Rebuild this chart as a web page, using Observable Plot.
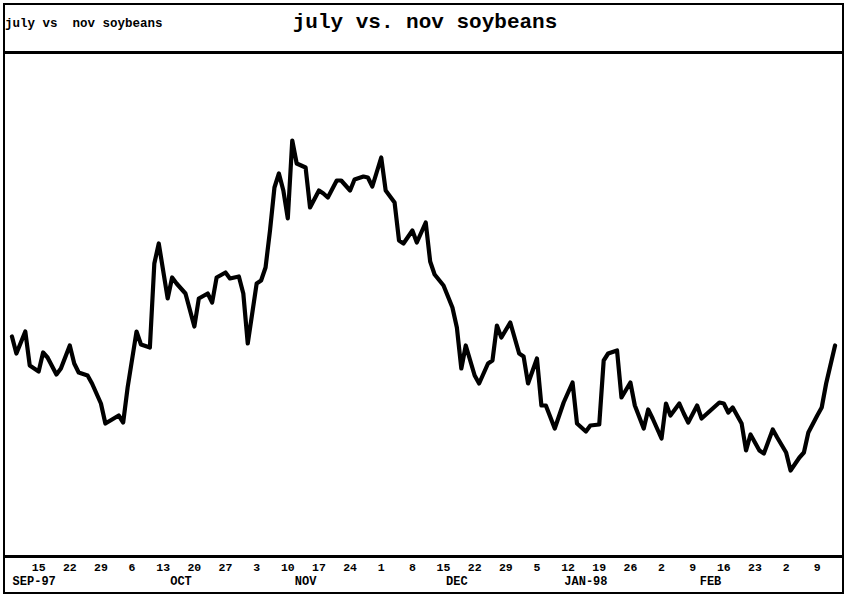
<!DOCTYPE html>
<html>
<head>
<meta charset="utf-8">
<script src="https://cdn.jsdelivr.net/npm/d3@7"></script>
<script src="https://cdn.jsdelivr.net/npm/@observablehq/plot@0.6"></script>
<style>
  body { margin: 0; background: #fff; }
  #wrap { position: relative; width: 846px; height: 597px; overflow: hidden; font-family: "Liberation Mono", "DejaVu Sans Mono", monospace; color: #000; }
  #small { position: absolute; left: 5px; top: 17px; font-size: 12.5px; font-weight: bold; white-space: pre; }
  #title { position: absolute; left: 0; top: 11px; width: 850px; text-align: center; font-size: 21px; font-weight: bold; white-space: pre; }
  #chart { position: absolute; left: 0; top: 53px; }
  #frame { position: absolute; left: 3px; top: 3px; width: 837px; height: 587px; border: 2.5px solid #000; pointer-events: none; }
  #sep { position: absolute; left: 3px; top: 51px; width: 841px; height: 3px; background: #000; }
  #axisline { position: absolute; left: 3px; top: 555px; width: 841px; height: 2.5px; background: #000; }
</style>
</head>
<body>
<div id="wrap">
  <div id="small">july vs  nov soybeans</div>
  <div id="title">july vs. nov soybeans</div>
  <div id="chart"></div>
  <div id="sep"></div>
  <div id="axisline"></div>
  <div id="frame"></div>
</div>
<script>
// ---- data (values are in the chart's own vertical units) ----
const dates = [
  "1997-09-09","1997-09-10","1997-09-12","1997-09-13","1997-09-15","1997-09-16","1997-09-17","1997-09-19","1997-09-20",
  "1997-09-22","1997-09-23","1997-09-24","1997-09-26","1997-09-27","1997-09-29","1997-09-30",
  "1997-10-03","1997-10-04","1997-10-05","1997-10-07","1997-10-08","1997-10-10","1997-10-11","1997-10-12",
  "1997-10-14","1997-10-15","1997-10-16","1997-10-18","1997-10-20","1997-10-21","1997-10-23","1997-10-24",
  "1997-10-25","1997-10-27","1997-10-28","1997-10-30","1997-10-31",
  "1997-11-01","1997-11-03","1997-11-04","1997-11-05","1997-11-06","1997-11-07","1997-11-08","1997-11-09",
  "1997-11-10","1997-11-11","1997-11-12","1997-11-14","1997-11-15","1997-11-17","1997-11-18","1997-11-19",
  "1997-11-21","1997-11-22","1997-11-24","1997-11-25","1997-11-27","1997-11-28","1997-11-29",
  "1997-12-01","1997-12-02","1997-12-04","1997-12-05","1997-12-06","1997-12-08","1997-12-09","1997-12-11",
  "1997-12-12","1997-12-13","1997-12-15","1997-12-17","1997-12-18","1997-12-19","1997-12-20","1997-12-22",
  "1997-12-23","1997-12-25","1997-12-26","1997-12-27","1997-12-28","1997-12-30",
  "1998-01-01","1998-01-02","1998-01-03","1998-01-05","1998-01-06","1998-01-07","1998-01-09","1998-01-11",
  "1998-01-13","1998-01-14","1998-01-16","1998-01-17","1998-01-19","1998-01-20","1998-01-21","1998-01-23",
  "1998-01-24","1998-01-26","1998-01-27","1998-01-29","1998-01-30","1998-01-31",
  "1998-02-02","1998-02-03","1998-02-04","1998-02-06","1998-02-07","1998-02-08","1998-02-10","1998-02-11",
  "1998-02-13","1998-02-15","1998-02-16","1998-02-17","1998-02-18","1998-02-20","1998-02-21","1998-02-22",
  "1998-02-24","1998-02-25","1998-02-27","1998-02-28",
  "1998-03-02","1998-03-03","1998-03-05","1998-03-06","1998-03-07","1998-03-09","1998-03-10","1998-03-11","1998-03-13"
];
const spread = [
  22.0,20.3,22.5,19.1,18.5,20.4,19.9,18.2,18.8,
  21.1,19.3,18.4,18.1,17.3,15.3,13.3,
  14.1,13.4,16.9,22.5,21.2,20.9,29.3,31.3,
  25.8,27.9,27.3,26.3,23.0,25.8,26.3,25.4,
  27.9,28.4,27.8,28.0,26.3,
  21.3,27.3,27.6,28.9,32.6,36.9,38.3,36.6,
  33.8,41.6,39.3,38.9,34.9,36.6,36.3,35.9,
  37.6,37.6,36.6,37.7,38.0,37.9,37.0,
  39.9,36.6,35.4,31.6,31.3,32.6,31.4,33.4,
  29.5,28.2,27.1,24.9,22.9,18.8,21.1,18.1,
  17.3,19.3,19.6,23.1,21.9,23.4,
  20.3,20.0,17.3,19.8,15.1,15.1,12.8,15.4,
  17.4,13.3,12.5,13.1,13.2,19.6,20.3,20.6,
  15.9,17.4,15.1,12.8,14.7,13.8,
  11.8,15.3,14.1,15.3,14.3,13.4,15.1,13.8,
  14.6,15.4,15.3,14.4,14.9,13.3,10.6,12.2,
  10.6,10.3,12.7,11.9,
  10.4,8.6,9.9,10.4,12.4,14.1,14.9,17.3,21.1
];
const dayTickDates = [
  "1997-09-15","1997-09-22","1997-09-29","1997-10-06","1997-10-13","1997-10-20","1997-10-27",
  "1997-11-03","1997-11-10","1997-11-17","1997-11-24","1997-12-01","1997-12-08","1997-12-15",
  "1997-12-22","1997-12-29","1998-01-05","1998-01-12","1998-01-19","1998-01-26","1998-02-02",
  "1998-02-09","1998-02-16","1998-02-23","1998-03-02","1998-03-09"
];
const dayTickLabels = ["15","22","29","6","13","20","27","3","10","17","24","1","8","15","22","29","5","12","19","26","2","9","16","23","2","9"];
const monthDates = ["1997-09-14","1997-10-17","1997-11-14","1997-12-18","1998-01-16","1998-02-13"];
const monthLabels = ["SEP-97","OCT","NOV","DEC","JAN-98","FEB"];
const xDomain = ["1997-09-08","1998-03-14"];
const yDomain = [0, 50.3];

// ---- build ----
const series = dates.map((d, i) => ({date: new Date(d), value: spread[i]}));
const dayTicks = dayTickDates.map((d, i) => ({date: new Date(d), label: dayTickLabels[i]}));
const months = monthDates.map((d, i) => ({date: new Date(d), label: monthLabels[i]}));

const chart = Plot.plot({
  width: 846,
  height: 544,
  marginTop: 0,
  marginBottom: 41,
  marginLeft: 7,
  marginRight: 7,
  x: {type: "utc", domain: xDomain.map(d => new Date(d)), axis: null},
  y: {domain: yDomain, axis: null},
  style: {background: "transparent", fontFamily: "'Liberation Mono', monospace", overflow: "visible", color: "#000"},
  marks: [
    Plot.line(series, {x: "date", y: "value", stroke: "#000", strokeWidth: 4.2, strokeLinejoin: "round", strokeLinecap: "round"}),
    Plot.text(dayTicks, {x: "date", text: "label", frameAnchor: "bottom", dy: 11, lineAnchor: "middle", fontWeight: "bold", fontSize: 11.5, fill: "#000"}),
    Plot.text(months, {x: "date", text: "label", frameAnchor: "bottom", dy: 25, lineAnchor: "middle", fontWeight: "bold", fontSize: 12, fill: "#000"})
  ]
});
document.getElementById("chart").appendChild(chart);
</script>
</body>
</html>
